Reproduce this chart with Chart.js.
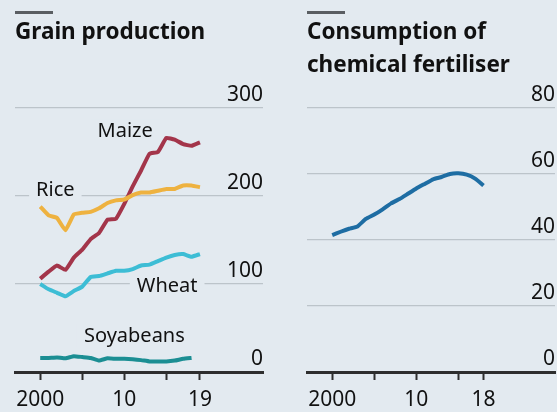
<!DOCTYPE html>
<html>
<head>
<meta charset="utf-8">
<script src="https://cdn.jsdelivr.net/npm/chart.js@4.4.1/dist/chart.umd.min.js"></script>
<style>
  html, body { margin: 0; padding: 0; background: #e3eaf0; }
  body { width: 557px; height: 412px; position: relative; overflow: hidden; font-family: "Noto Sans", sans-serif; }
  .panel { position: absolute; top: 0; height: 412px; }
  .bar { position: absolute; top: 11px; width: 38px; height: 3px; background: #5a5e62; }
  .title { position: absolute; top: 14px; font-weight: bold; font-size: 22.5px; line-height: 33px; color: #111; white-space: nowrap; }
  canvas { position: absolute; left: 0; top: 0; }
</style>
</head>
<body>
<div class="panel" style="left:0;width:278px">
  <canvas id="grainChart" width="278" height="412"></canvas>
  <div class="bar" style="left:15px"></div>
  <div class="title" style="left:15px">Grain production</div>
</div>
<div class="panel" style="left:279px;width:278px">
  <canvas id="fertChart" width="278" height="412"></canvas>
  <div class="bar" style="left:28px"></div>
  <div class="title" style="left:28px">Consumption of<br>chemical fertiliser</div>
</div>
<script>
// 年份
const years = [2000, 2001, 2002, 2003, 2004, 2005, 2006, 2007, 2008, 2009,
               2010, 2011, 2012, 2013, 2014, 2015, 2016, 2017, 2018, 2019];

// 粮食产量 (百万吨)
const maize = [106, 114, 121, 116, 130, 139, 151, 158, 173, 174,
               191, 211, 229, 248, 250, 266, 264, 259, 257, 261];
const rice = [188, 178, 175, 161, 179, 181, 182, 186, 192, 195,
              196, 201, 204, 204, 206, 208, 208, 212, 212, 210];
const wheat = [100, 94, 90, 86, 92, 97, 108, 109, 112, 115,
               115, 117, 121, 122, 126, 130, 133, 134, 131, 134];
const soybeans = [16, 16, 16.5, 15.5, 18, 17, 16, 13, 15.5, 15,
                  15, 14.5, 13.5, 12, 12, 12, 13, 15, 16, null];

// 化肥消费量 (百万吨)
const fertiliser = [41.5, 42.5, 43.4, 44.1, 46.4, 47.7, 49.3, 51.1, 52.4, 54.0,
                    55.6, 57.0, 58.4, 59.1, 60.0, 60.2, 59.8, 58.6, 56.5];

// 刻度
const grainYTicks = [0, 100, 200, 300];
const fertYTicks = [0, 20, 40, 60, 80];
const grainXTicks = [2000, 2005, 2010, 2015, 2019];
const grainXLabels = ['2000', '', '10', '', '19'];
const fertXTicks = [2000, 2005, 2010, 2015, 2018];
const fertXLabels = ['2000', '', '10', '', '18'];

const BG = '#e3eaf0';
const COLORS = {
  maize: '#a3354a',
  rice: '#eeb240',
  wheat: '#3dbdd5',
  soybeans: '#1b8e93',
  fertiliser: '#1e6da3'
};

// 系列标签 (年份, 数值)
const grainLabels = [
  { text: 'Maize', x: 2010.1, y: 273 },
  { text: 'Rice', x: 2001.8, y: 206 },
  { text: 'Wheat', x: 2015.1, y: 97 },
  { text: 'Soyabeans', x: 2011.2, y: 41 }
];

function toPoints(values) {
  return values.map((v, i) => ({ x: years[i], y: v }));
}

function lineDataset(label, values, color) {
  return {
    label,
    data: toPoints(values),
    borderColor: color,
    borderWidth: 4,
    pointRadius: 0,
    tension: 0.1,
    spanGaps: false,
    borderCapStyle: 'butt',
    borderJoinStyle: 'round'
  };
}

const seriesLabelPlugin = {
  id: 'seriesLabels',
  beforeDatasetsDraw(chart, args, opts) {
    const items = opts.items || [];
    const { ctx, scales } = chart;
    ctx.save();
    ctx.font = '20px "Noto Sans"';
    ctx.textAlign = 'center';
    ctx.textBaseline = 'middle';
    items.forEach(item => {
      const px = scales.x.getPixelForValue(item.x);
      const py = scales.y.getPixelForValue(item.y);
      const w = ctx.measureText(item.text).width;
      ctx.fillStyle = BG;
      ctx.fillRect(px - w / 2 - 7, py - 12, w + 14, 24);
      ctx.fillStyle = '#111';
      ctx.fillText(item.text, px, py);
    });
    ctx.restore();
  }
};

function chartOptions(yMax, yTicks, xTicks, xLabels, padLeft, padRight, labels) {
  return {
    responsive: false,
    animation: false,
    layout: { padding: { left: padLeft, right: padRight, top: 108, bottom: 0 } },
    plugins: {
      legend: { display: false },
      tooltip: { enabled: false },
      seriesLabels: { items: labels }
    },
    scales: {
      x: {
        type: 'linear',
        min: 1997,
        max: 2026.5,
        afterBuildTicks: scale => { scale.ticks = xTicks.map(v => ({ value: v })); },
        afterFit: scale => { scale.height = 40; },
        border: { display: true, color: '#2e2e2e', width: 3 },
        grid: { drawOnChartArea: false, drawTicks: true, tickLength: 8, tickWidth: 2, tickColor: '#2e2e2e' },
        ticks: {
          autoSkip: false,
          maxRotation: 0,
          padding: 7,
          color: '#111',
          font: { family: 'Noto Sans', size: 21 },
          callback: (v) => xLabels[xTicks.indexOf(v)]
        }
      },
      y: {
        position: 'right',
        min: 0,
        max: yMax,
        afterBuildTicks: scale => { scale.ticks = yTicks.map(v => ({ value: v })); },
        afterFit: scale => { scale.width = 0; },
        border: { display: false },
        grid: { color: '#bcc4ca', lineWidth: 1.2, drawTicks: false },
        ticks: {
          mirror: true,
          padding: 0,
          labelOffset: -13,
          color: '#111',
          font: { family: 'Noto Sans', size: 21 }
        }
      }
    }
  };
}

new Chart(document.getElementById('grainChart'), {
  type: 'line',
  data: {
    datasets: [
      lineDataset('Soyabeans', soybeans, COLORS.soybeans),
      lineDataset('Wheat', wheat, COLORS.wheat),
      lineDataset('Rice', rice, COLORS.rice),
      lineDataset('Maize', maize, COLORS.maize)
    ]
  },
  options: chartOptions(300, grainYTicks, grainXTicks, grainXLabels, 15, 15, grainLabels),
  plugins: [seriesLabelPlugin]
});

new Chart(document.getElementById('fertChart'), {
  type: 'line',
  data: {
    datasets: [lineDataset('Fertiliser', fertiliser, COLORS.fertiliser)]
  },
  options: chartOptions(80, fertYTicks, fertXTicks, fertXLabels, 28, 2, []),
  plugins: [seriesLabelPlugin]
});
</script>
</body>
</html>
